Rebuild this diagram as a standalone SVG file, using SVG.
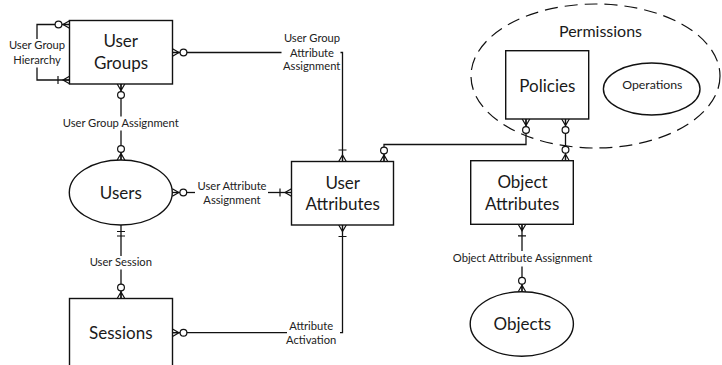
<svg xmlns="http://www.w3.org/2000/svg" width="722" height="365" viewBox="0 0 722 365">
  <style>
    .entity { fill: #fff; stroke: #111; stroke-width: 1.4; }
    .group { fill: none; stroke: #111; stroke-width: 1.2; stroke-dasharray: 13 7; }
    .conn { fill: none; stroke: #111; stroke-width: 1.3; }
    .big { font-family: Lato, "Liberation Sans", sans-serif; font-size: 17px; fill: #1a1a1a; text-anchor: middle; }
    .mid { font-family: Lato, "Liberation Sans", sans-serif; font-size: 16px; fill: #1a1a1a; text-anchor: middle; }
    .small { font-family: Lato, "Liberation Sans", sans-serif; font-size: 11.2px; fill: #222; text-anchor: middle; }
    .tiny { font-family: Lato, "Liberation Sans", sans-serif; font-size: 12.3px; fill: #1a1a1a; text-anchor: middle; }
  </style>
  <defs>
    <!-- zero or many: open circle + crow's foot -->
    <marker id="zeroMany" markerUnits="userSpaceOnUse" orient="auto-start-reverse" refX="0" refY="0" markerWidth="30" markerHeight="30" viewBox="-20 -10 30 20" overflow="visible">
      <path d="M0,-3.8 L-6.5,0 L0,3.8 M0,0 H-7.5" fill="none" stroke="#111" stroke-width="1.2"/>
      <circle cx="-11" cy="0" r="3.4" fill="#fff" stroke="#111" stroke-width="1.2"/>
    </marker>
    <!-- one or many: bar + crow's foot -->
    <marker id="oneMany" markerUnits="userSpaceOnUse" orient="auto-start-reverse" refX="0" refY="0" markerWidth="30" markerHeight="30" viewBox="-20 -10 30 20" overflow="visible">
      <path d="M0,-3.8 L-6.5,0 L0,3.8 M0,0 H-6.5 M-11.5,-4 V4" fill="none" stroke="#111" stroke-width="1.2"/>
    </marker>
    <!-- exactly one: double bar -->
    <marker id="oneOne" markerUnits="userSpaceOnUse" orient="auto-start-reverse" refX="0" refY="0" markerWidth="30" markerHeight="30" viewBox="-20 -10 30 20" overflow="visible">
      <path d="M-6.5,-4 V4 M-11,-4 V4" fill="none" stroke="#111" stroke-width="1.2"/>
    </marker>
  </defs>

  <rect width="722" height="365" fill="#fff"/>

  <!-- Permissions grouping -->
  <g id="permissions">
    <ellipse class="group" cx="595.5" cy="76" rx="124.5" ry="72"/>
    <text class="mid" x="600.5" y="37.3">Permissions</text>
  </g>

  <!-- relationships -->
  <g id="connectors">
    <!-- User Group Hierarchy -->
    <path class="conn" d="M69.5,24.5 H37 V39" marker-start="url(#zeroMany)"/>
    <path class="conn" d="M37,67.5 V80 H69.5" marker-end="url(#oneMany)"/>
    <!-- User Group Assignment -->
    <path class="conn" d="M121,84 V116.5" marker-start="url(#zeroMany)"/>
    <path class="conn" d="M121,130.5 V160" marker-end="url(#zeroMany)"/>
    <!-- User Group Attribute Assignment -->
    <path class="conn" d="M172.5,52.5 H281.5" marker-start="url(#zeroMany)"/>
    <path class="conn" d="M340.5,52.5 H342.5 V161.5" marker-end="url(#oneMany)"/>
    <!-- User Attribute Assignment -->
    <path class="conn" d="M172.3,192.5 H195" marker-start="url(#zeroMany)"/>
    <path class="conn" d="M268,192.5 H291.5" marker-end="url(#oneMany)"/>
    <!-- User Session -->
    <path class="conn" d="M121,225 V256" marker-start="url(#oneOne)"/>
    <path class="conn" d="M121,269.5 V298.5" marker-end="url(#zeroMany)"/>
    <!-- Attribute Activation -->
    <path class="conn" d="M172.5,332.7 H287" marker-start="url(#zeroMany)"/>
    <path class="conn" d="M340,332.7 H342.5 V225" marker-end="url(#oneMany)"/>
    <!-- User Attributes to Policies -->
    <path class="conn" d="M384,161.5 V144.5 H526 V119" marker-start="url(#zeroMany)" marker-end="url(#zeroMany)"/>
    <!-- Policies to Object Attributes -->
    <path class="conn" d="M565.5,119 V160.7" marker-start="url(#zeroMany)" marker-end="url(#zeroMany)"/>
    <!-- Object Attribute Assignment -->
    <path class="conn" d="M522,224.3 V251" marker-start="url(#oneMany)"/>
    <path class="conn" d="M522,266.5 V291.7" marker-end="url(#zeroMany)"/>
  </g>

  <!-- relationship labels -->
  <g id="labels">
    <text class="small" x="37" y="49.3">User Group</text>
    <text class="small" x="37" y="64">Hierarchy</text>
    <text class="small" x="120.7" y="127.3">User Group Assignment</text>
    <text class="small" x="312" y="42.3">User Group</text>
    <text class="small" x="312" y="56.5">Attribute</text>
    <text class="small" x="311.7" y="70.3">Assignment</text>
    <text class="small" x="232" y="190">User Attribute</text>
    <text class="small" x="232" y="203.5">Assignment</text>
    <text class="small" x="120.8" y="265.7">User Session</text>
    <text class="small" x="311.2" y="330">Attribute</text>
    <text class="small" x="311.2" y="344">Activation</text>
    <text class="small" x="522.5" y="262.3">Object Attribute Assignment</text>
  </g>

  <!-- entities -->
  <g id="user-groups">
    <rect class="entity" x="69.5" y="20.5" width="103" height="63.5"/>
    <text class="big" x="120.7" y="47.3">User</text>
    <text class="big" x="121" y="69">Groups</text>
  </g>
  <g id="users">
    <ellipse class="entity" cx="120.8" cy="192.5" rx="51.5" ry="32.5"/>
    <text class="big" x="120.8" y="199.3">Users</text>
  </g>
  <g id="sessions">
    <rect class="entity" x="69.5" y="298.5" width="103" height="80"/>
    <text class="big" x="120.8" y="339.3">Sessions</text>
  </g>
  <g id="user-attributes">
    <rect class="entity" x="291.5" y="161.5" width="102" height="63.5"/>
    <text class="big" x="342.7" y="189.3">User</text>
    <text class="big" x="342.7" y="210">Attributes</text>
  </g>
  <g id="policies">
    <rect class="entity" x="505.7" y="50.7" width="83" height="68.3"/>
    <text class="big" x="547.3" y="91.7">Policies</text>
  </g>
  <g id="operations">
    <ellipse class="entity" cx="651.7" cy="89" rx="48.3" ry="26"/>
    <text class="tiny" x="652.3" y="88.5">Operations</text>
  </g>
  <g id="object-attributes">
    <rect class="entity" x="470.7" y="160.7" width="102.6" height="63.6"/>
    <text class="big" x="522.5" y="188.3">Object</text>
    <text class="big" x="522.2" y="210">Attributes</text>
  </g>
  <g id="objects">
    <ellipse class="entity" cx="521.8" cy="324" rx="51.6" ry="32.2"/>
    <text class="big" x="522.3" y="330">Objects</text>
  </g>
</svg>
